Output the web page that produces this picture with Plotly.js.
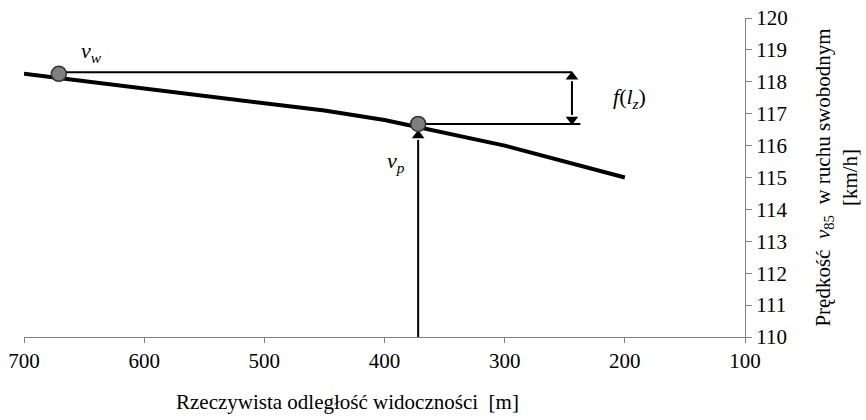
<!DOCTYPE html>
<html>
<head>
<meta charset="utf-8">
<script src="https://cdn.plot.ly/plotly-3.0.1.min.js"></script>
<style>
html,body{margin:0;padding:0;background:#fff;}
#chart{width:866px;height:420px;}
</style>
</head>
<body>
<div id="chart"></div>
<script>
// Curve: speed v85 vs real sight distance
const distance = [700, 600, 500, 450, 400, 300, 200];
const speed = [118.25, 117.8, 117.35, 117.1, 116.8, 116.0, 115.0];
// Marked points
const vwPoint = [671, 118.25];
const vpPoint = [372, 116.68];
// Reference levels and dimension arrow position
const vwLevel = 118.3;
const dimX = 244;
const lowerLineEnd = 237;
const xTicks = [700, 600, 500, 400, 300, 200, 100];
const yTicks = [110, 111, 112, 113, 114, 115, 116, 117, 118, 119, 120];
const yTitle = 'Pr\u0119dko\u015b\u0107  <i>v</i><sub>85</sub>  w ruchu swobodnym<br>[km/h]';
const xTitle = 'Rzeczywista odleg\u0142o\u015b\u0107 widoczno\u015bci  [m]';

const FF = 'Liberation Serif';
const arrowTipGap = 0.22;   // gap between vp arrow tip and point (data units)
const headLen = 0.28;       // approx arrowhead length in data units (for the shaft end)

const traces = [
  {x: distance, y: speed, mode: 'lines', line: {color: '#000', width: 4}},
  {x: [vwPoint[0], dimX], y: [vwLevel, vwLevel], mode: 'lines', line: {color: '#000', width: 2}},
  {x: [vpPoint[0], lowerLineEnd], y: [vpPoint[1], vpPoint[1]], mode: 'lines', line: {color: '#000', width: 2}},
  // vertical arrow shaft up to vp
  {x: [vpPoint[0], vpPoint[0]], y: [110, vpPoint[1] - arrowTipGap - headLen], mode: 'lines', line: {color: '#000', width: 2}},
  // double arrow shaft
  {x: [dimX, dimX], y: [vpPoint[1] + headLen, vwLevel - headLen], mode: 'lines', line: {color: '#000', width: 2}},
  // arrowheads
  {x: [vpPoint[0], dimX], y: [vpPoint[1] - arrowTipGap - headLen / 2, vwLevel - headLen / 2], mode: 'markers',
   marker: {symbol: 'triangle-up', size: 11, color: '#000'}},
  {x: [dimX], y: [vpPoint[1] + headLen / 2], mode: 'markers',
   marker: {symbol: 'triangle-down', size: 11, color: '#000'}},
  {x: [vwPoint[0], vpPoint[0]], y: [vwPoint[1], vpPoint[1]], mode: 'markers',
   marker: {size: 15, color: '#7f7f7f', line: {color: '#333', width: 1.5}}}
];

const layout = {
  width: 866, height: 420,
  margin: {l: 24, r: 121, t: 18, b: 83},
  showlegend: false,
  font: {family: FF, size: 20, color: '#000'},
  xaxis: {
    range: [700, 100], tickvals: xTicks,
    showgrid: false, zeroline: false, showline: true, linecolor: '#808080', linewidth: 1,
    ticks: 'outside', ticklen: 5, tickcolor: '#808080', tickfont: {family: FF, size: 21, color: '#000'}
  },
  yaxis: {
    range: [110, 120], side: 'right', tickvals: yTicks,
    showgrid: false, zeroline: false, showline: true, linecolor: '#808080', linewidth: 1,
    ticks: 'outside', ticklen: 6, tickcolor: '#808080', tickfont: {family: FF, size: 21, color: '#000'},
    title: {text: yTitle, font: {family: FF, size: 21, color: '#000'}, standoff: 28}
  },
  annotations: [
    {xref: 'paper', yref: 'paper', x: 0.448, y: -0.205, yanchor: 'middle', showarrow: false,
     text: xTitle, font: {family: FF, size: 21, color: '#000'}},
    {x: vwPoint[0], y: vwPoint[1], xshift: 33, yshift: 22, showarrow: false,
     text: '<i>v</i><sub><i>w</i></sub>', font: {family: FF, size: 22, color: '#000'}},
    {x: vpPoint[0], y: vpPoint[1], xshift: -22, yshift: -38, showarrow: false,
     text: '<i>v</i><sub><i>p</i></sub>', font: {family: FF, size: 22, color: '#000'}},
    {x: dimX, y: (vwLevel + vpPoint[1]) / 2, xshift: 58, showarrow: false,
     text: '<i>f</i>(<i>l</i><sub><i>z</i></sub>)', font: {family: FF, size: 22, color: '#000'}}
  ]
};

Plotly.newPlot('chart', traces, layout, {displayModeBar: false, staticPlot: true});
</script>
</body>
</html>
